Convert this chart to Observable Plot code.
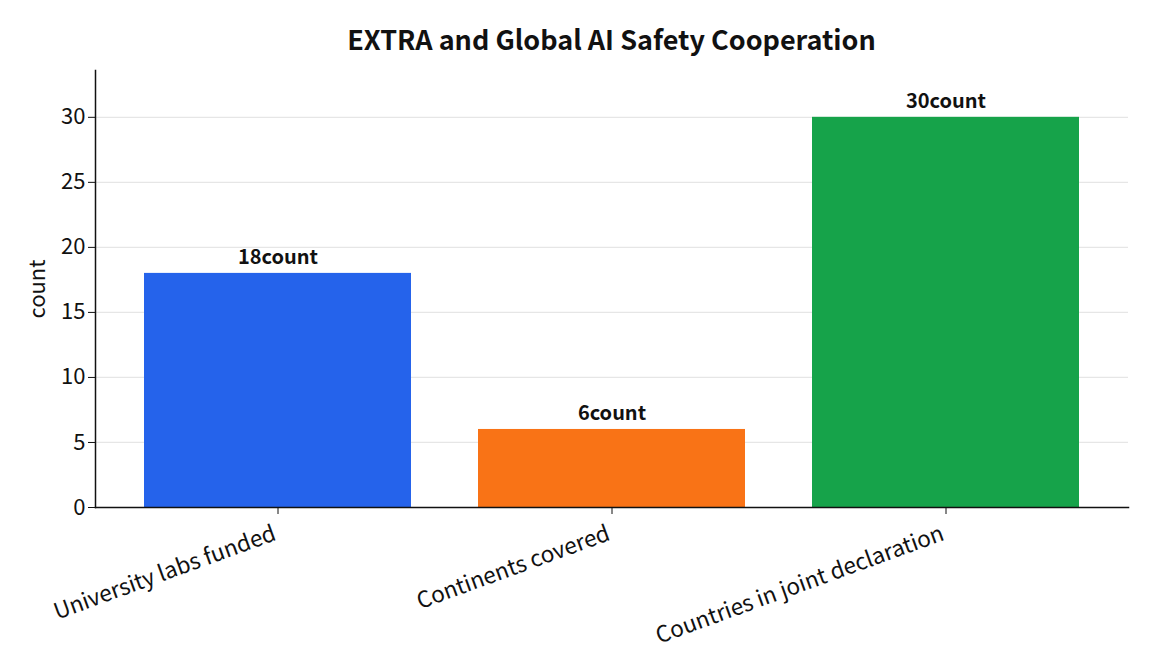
<!DOCTYPE html>
<html><head><meta charset="utf-8">
<script src="https://cdn.jsdelivr.net/npm/d3@7"></script>
<script src="https://cdn.jsdelivr.net/npm/@observablehq/plot@0.6"></script>
<style>
body{margin:0;background:#fff;font-family:"Noto Sans CJK SC",sans-serif;}
#title{height:60px;box-sizing:border-box;padding-left:71px;display:flex;align-items:center;justify-content:center;padding-top:16px;font-size:27px;font-weight:bold;color:#111;}
</style></head><body>
<div id="title">EXTRA and Global AI Safety Cooperation</div>
<div id="chart"></div>
<script>
const categories = ["University labs funded", "Continents covered", "Countries in joint declaration"];
const values = [18, 6, 30];
const colors = ["#2563eb", "#f97316", "#16a34a"];
const yTicks = [0, 5, 10, 15, 20, 25, 30];

const data = categories.map((c, i) => ({category: c, value: values[i], color: colors[i]}));

const chart = Plot.plot({
  width: 1152,
  height: 612,
  marginLeft: 95,
  marginRight: 24,
  marginTop: 10,
  marginBottom: 165,
  style: {fontFamily: "'Noto Sans CJK SC', sans-serif", fontSize: "22px", color: "#111"},
  x: {domain: categories, paddingInner: 0.2, paddingOuter: 0.143, label: null},
  y: {domain: [0, 33.6], label: null},
  marks: [
    Plot.gridY(yTicks, {stroke: "#e6e6e6", strokeOpacity: 1, strokeWidth: 1.2}),
    Plot.barY(data, {x: "category", y: "value", fill: "color"}),
    Plot.frame({anchor: "left", stroke: "#111", strokeWidth: 1.5}),
    Plot.frame({anchor: "bottom", stroke: "#111", strokeWidth: 1.5}),
    Plot.axisY({ticks: yTicks, tickSize: 7, tickPadding: 3, label: "count", labelAnchor: "center", labelArrow: "none", labelOffset: 66, fontSize: 22}),
    Plot.axisX({tickSize: 7, tickFormat: () => "", label: null}),
    Plot.text(categories, {x: d => d, frameAnchor: "bottom", text: d => d, rotate: -20, textAnchor: "end", lineAnchor: "top", dx: -6, dy: 17, fontSize: 22.5, fill: "#111"}),
    Plot.text(data, {x: "category", y: "value", text: d => d.value + "count", dy: -16, fontWeight: "bold", fontSize: 20, fill: "#111"})
  ]
});
document.getElementById("chart").appendChild(chart);
</script>
</body></html>
